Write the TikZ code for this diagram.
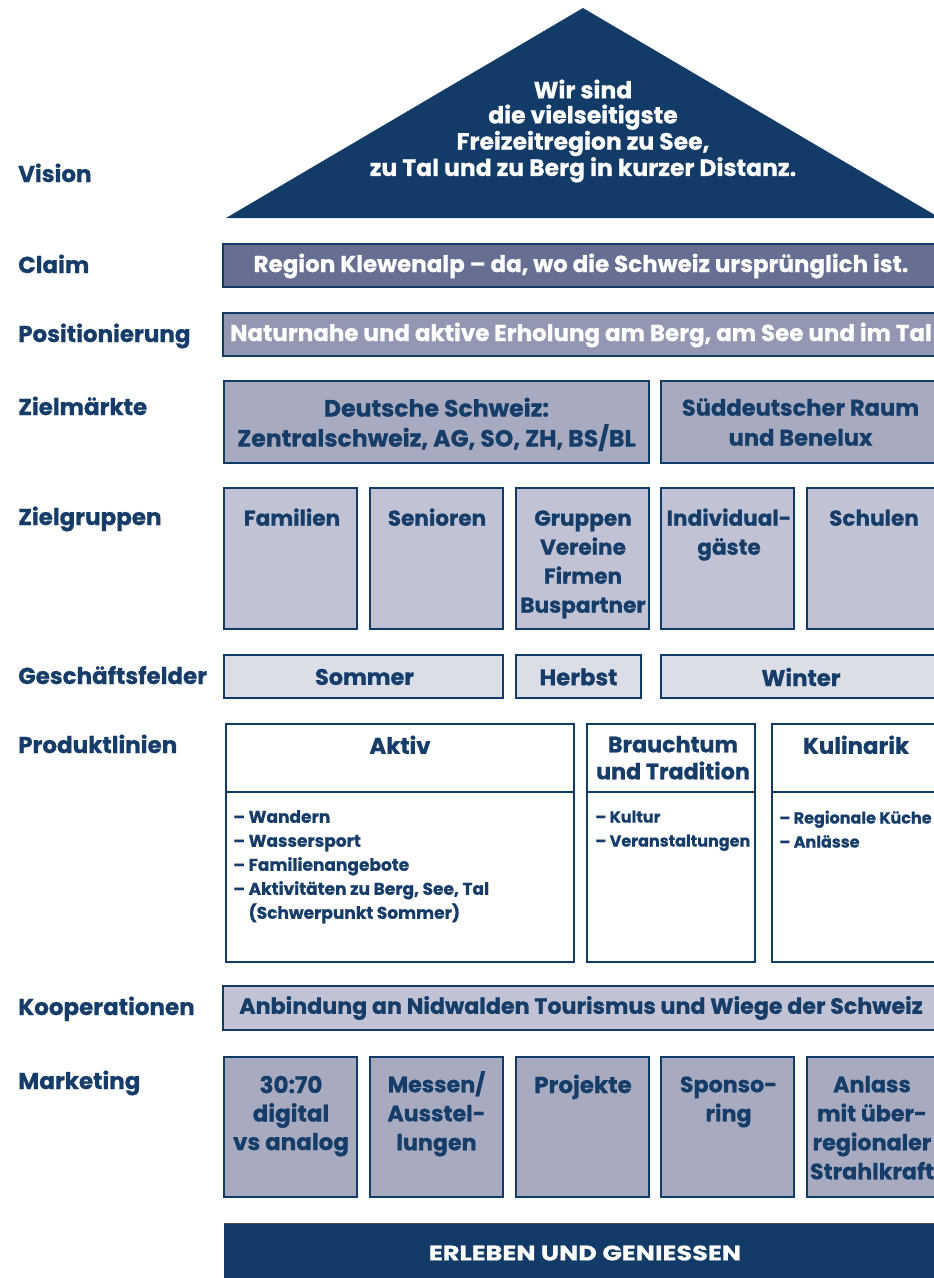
\documentclass[tikz,border=0pt]{standalone}
\usepackage{fontspec}
\setmainfont{Poppins}[BoldFeatures={FakeBold=0.7}]
\definecolor{navy}{HTML}{123B68}
\definecolor{tnavy}{HTML}{163C69}
\definecolor{claimc}{HTML}{666E91}
\definecolor{posc}{HTML}{9397B2}
\definecolor{zmc}{HTML}{A8ABC0}
\definecolor{zgc}{HTML}{C1C3D4}
\definecolor{gfc}{HTML}{DCDEE7}
\newcommand{\fsz}[2]{\fontsize{#1}{#2}\selectfont\bfseries}
\newcommand{\fl}{\vphantom{/}}
\tikzset{
  lbl/.style={anchor=base west, inner sep=0pt, text=tnavy, font=\fsz{23}{27}},
  frame/.style={draw=navy, line width=1.6pt},
  btxt/.style={inner sep=0pt, text=tnavy, align=center, font=\fsz{23}{29}},
  wtxt/.style={inner sep=0pt, text=white, align=center, font=\fsz{23}{27}},
  ltxt/.style={inner sep=0pt, text=tnavy, align=left, anchor=north west, font=\fsz{17}{24}},
}
\begin{document}
\begin{tikzpicture}[x=1pt,y=-1pt]
\useasboundingbox (0,0) rectangle (934,1278);
\clip (0,0) rectangle (934,1278);
\fill[white] (0,0) rectangle (934,1278);

% labels
\node[lbl] (lv) at (18,182) {Vision};
\node[lbl] (lc) at (18,273) {Claim};
\node[lbl] (lp) at (18,342) {Positionierung};
\node[lbl] (lzm) at (18,415) {Zielmärkte};
\node[lbl] (lzg) at (18,525) {Zielgruppen};
\node[lbl] (lgf) at (18,684) {Geschäftsfelder};
\node[lbl] (lpl) at (18,753) {Produktlinien};
\node[lbl] (lko) at (18,1015) {Kooperationen};
\node[lbl] (lma) at (18,1089) {Marketing};

% vision roof
\fill[navy] (226,218) -- (583,8) -- (940,218) -- cycle;
\node[wtxt, font=\fsz{23.5}{25}] (vt) at (583,131) {Wir sind\\die vielseitigste\\Freizeitregion zu See,\\zu Tal und zu Berg in kurzer Distanz.};

% claim
\draw[frame, fill=claimc] (223,244) rectangle (945,287);
\node[wtxt] (ct) at (581,266) {Region Klewenalp – da, wo die Schweiz ursprünglich ist.};

% positionierung
\draw[frame, fill=posc] (223,313) rectangle (945,356);
\node[wtxt] (pt) at (581,335) {Naturnahe und aktive Erholung am Berg, am See und im Tal};

% zielmaerkte
\draw[frame, fill=zmc] (224,381) rectangle (649,463);
\draw[frame, fill=zmc] (661,381) rectangle (945,463);
\node[btxt, anchor=north, font=\fsz{23.6}{30}] (zm1) at (436.5,394) {\fl Deutsche Schweiz:\\Zentralschweiz, AG, SO, ZH, BS/BL};
\node[btxt, anchor=north, font=\fsz{22.6}{30}] (zm2) at (800.5,394) {\fl Süddeutscher Raum\\und Benelux};

% zielgruppen
\foreach \a/\b in {224/357,370/503,516/649,661/794,807/945}{
  \draw[frame, fill=zgc] (\a,488) rectangle (\b,629);
}
\tikzset{zgt/.style={btxt, anchor=north, font=\fsz{21.6}{29}}}
\node[zgt] (zg1) at (292,505) {\fl Familien};
\node[zgt] (zg2) at (437,505) {\fl Senioren};
\node[zgt] (zg3) at (583,505) {\fl Gruppen\\Vereine\\Firmen\\Buspartner};
\node[zgt] (zg4) at (729,505) {\fl Individual-\\gäste};
\node[zgt] (zg5) at (874,505) {\fl Schulen};

% geschaeftsfelder
\draw[frame, fill=gfc] (224,655) rectangle (503,698);
\draw[frame, fill=gfc] (516,655) rectangle (641,698);
\draw[frame, fill=gfc] (661,655) rectangle (945,698);
\node[btxt, font=\fsz{22.4}{29}] (gf1) at (364.5,677) {Sommer};
\node[btxt, font=\fsz{22.8}{29}] (gf2) at (578.5,677) {Herbst};
\node[btxt, font=\fsz{22.8}{29}] (gf3) at (801,677) {Winter};

% produktlinien
\draw[frame, fill=white] (226,724) rectangle (574,962);
\draw[frame] (226,792) -- (574,792);
\draw[frame, fill=white] (587,724) rectangle (755,962);
\draw[frame] (587,792) -- (755,792);
\draw[frame, fill=white] (772,724) rectangle (945,962);
\draw[frame] (772,792) -- (945,792);
\node[btxt, anchor=north, font=\fsz{22.8}{27}] (pl1) at (400,732) {\fl Aktiv};
\node[btxt, anchor=north, font=\fsz{22.2}{27}] (pl2) at (673,731) {\fl Brauchtum\\und Tradition};
\node[btxt, anchor=north, font=\fsz{22.8}{27}] (pl3) at (856,732) {\fl Kulinarik};
\node[ltxt] (li1) at (233,810) {– Wandern\\– Wassersport\\– Familienangebote\\– Aktivitäten zu Berg, See, Tal\\\phantom{– }(Schwerpunkt Sommer)};
\node[ltxt, font=\fsz{16}{24}] (li2) at (595,810.5) {– Kultur\\– Veranstaltungen};
\node[ltxt, font=\fsz{16}{24}] (li3) at (779,810.5) {– Regionale Küche\\– Anlässe};

% kooperationen
\draw[frame, fill=zgc] (223,986) rectangle (945,1030);
\node[btxt, font=\fsz{22.2}{29}] (ko) at (581,1008) {Anbindung an Nidwalden Tourismus und Wiege der Schweiz};

% marketing
\foreach \a/\b in {224/357,370/503,516/649,661/794,807/945}{
  \draw[frame, fill=zmc] (\a,1057) rectangle (\b,1197);
}
\tikzset{mat/.style={btxt, anchor=north, font=\fsz{22.2}{29}}}
\node[mat, font=\fsz{23}{28.5}] (ma1) at (291,1071) {\fl 30:70\\digital\\vs analog};
\node[mat] (ma2) at (436.5,1071) {\fl Messen/\\Ausstel-\\lungen};
\node[mat, font=\fsz{23}{29}] (ma3) at (583,1071) {\fl Projekte};
\node[mat] (ma4) at (728.5,1071) {\fl Sponso-\\ring};
\node[mat] (ma5) at (872,1071) {\fl Anlass\\mit über-\\regionaler\\Strahlkraft};

% base
\fill[navy] (224,1223) rectangle (945,1290);
\draw[line width=1.2pt, draw=black!70] (224,1223.6) -- (945,1223.6);
\node[wtxt, font=\fsz{21}{24}\addfontfeature{FakeStretch=1.22}] (bt) at (585,1253) {ERLEBEN UND GENIESSEN};
\end{tikzpicture}
\end{document}
